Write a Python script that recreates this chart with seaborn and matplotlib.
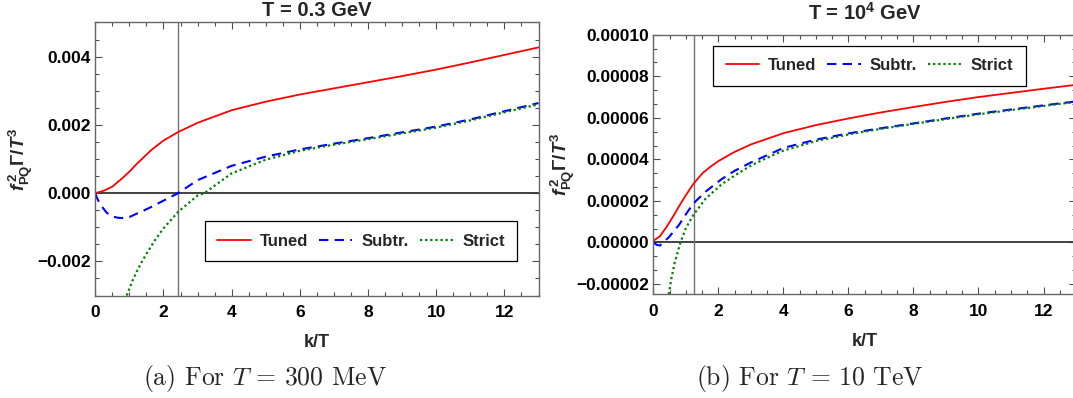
import numpy as np
import pandas as pd
import matplotlib
matplotlib.use("Agg")
import matplotlib.pyplot as plt
import seaborn as sns
from matplotlib.ticker import MultipleLocator, FuncFormatter

# ---------------- data ----------------
# Panel (a): T = 0.3 GeV, values in units of 1e-3
k_tuned_a = [0, 0.25, 0.5, 0.83, 1.0, 1.22, 1.45, 1.65, 2.0, 2.43, 3.0, 4.0, 5.0, 6.0, 7.0, 8.0, 9.0, 10.0, 11.0, 12.0, 13.0]
v_tuned_a = [0, 0.07, 0.19, 0.47, 0.63, 0.86, 1.08, 1.27, 1.54, 1.79, 2.06, 2.43, 2.68, 2.89, 3.07, 3.25, 3.43, 3.62, 3.83, 4.05, 4.27]

k_subtr_a = [0, 0.05, 0.15, 0.34, 0.5, 0.65, 0.78, 1.0, 1.22, 1.4, 1.61, 2.0, 2.43, 3.0, 4.0, 5.0, 6.0, 7.0, 8.0, 9.0, 10.0, 11.0, 12.0, 13.0]
v_subtr_a = [0, -0.14, -0.34, -0.58, -0.68, -0.72, -0.73, -0.70, -0.60, -0.52, -0.42, -0.22, 0.0, 0.38, 0.80, 1.07, 1.28, 1.45, 1.61, 1.78, 1.95, 2.16, 2.40, 2.64]

k_strict_a = [0.92, 1.0, 1.1, 1.2, 1.35, 1.5, 1.75, 2.0, 2.43, 3.0, 3.2, 4.0, 5.0, 6.0, 7.0, 8.0, 9.0, 10.0, 11.0, 12.0, 13.0]
v_strict_a = [-3.0, -2.8, -2.55, -2.33, -2.04, -1.78, -1.38, -1.03, -0.55, -0.07, 0.0, 0.58, 0.98, 1.24, 1.42, 1.58, 1.75, 1.92, 2.13, 2.37, 2.60]

vline_a = 2.43

# Panel (b): T = 1e4 GeV, values in units of 1e-5
k_tuned_b = [0, 0.2, 0.37, 0.57, 0.78, 0.98, 1.22, 1.5, 1.75, 2.0, 2.5, 3.0, 4.0, 5.0, 6.0, 7.0, 8.0, 9.0, 10.0, 11.0, 12.0, 13.0]
v_tuned_b = [0.08, 0.3, 0.67, 1.16, 1.72, 2.23, 2.8, 3.32, 3.64, 3.92, 4.36, 4.72, 5.26, 5.65, 5.97, 6.26, 6.52, 6.77, 7.0, 7.2, 7.4, 7.59]

k_subtr_b = [0, 0.1, 0.2, 0.3, 0.47, 0.78, 1.0, 1.22, 1.6, 2.1, 2.5, 3.0, 4.0, 5.0, 6.0, 7.0, 8.0, 9.0, 10.0, 11.0, 12.0, 13.0]
v_subtr_b = [0, -0.12, -0.15, 0.0, 0.24, 0.83, 1.36, 1.86, 2.44, 3.05, 3.45, 3.85, 4.55, 4.95, 5.25, 5.5, 5.73, 5.97, 6.2, 6.4, 6.6, 6.79]

k_strict_b = [0.47, 0.55, 0.65, 0.75, 0.83, 1.0, 1.22, 1.6, 2.1, 2.6, 3.0, 3.5, 4.0, 5.0, 6.0, 7.0, 8.0, 9.0, 10.0, 11.0, 12.0, 13.0]
v_strict_b = [-2.5, -1.75, -1.0, -0.45, 0.0, 0.7, 1.3, 2.1, 2.8, 3.32, 3.7, 4.08, 4.42, 4.88, 5.2, 5.47, 5.71, 5.94, 6.17, 6.37, 6.57, 6.77]

vline_b = 1.25

series_names = ["Tuned", "Subtr.", "Strict"]
titles = ["T = 0.3 GeV", r"T = 10$^{4}$ GeV"]
captions = [r"(a) For $T\,=\,300$ MeV", r"(b) For $T\,=\,10$ TeV"]

# ---------------- style ----------------
sns.set_theme(style="ticks")
plt.rcParams.update({
    "font.family": ["Liberation Sans", "DejaVu Sans"],
    "font.weight": "bold",
    "mathtext.fontset": "custom",
    "mathtext.rm": "Liberation Sans:bold",
    "mathtext.it": "Liberation Sans:bold:italic",
    "mathtext.bf": "Liberation Sans:bold",
    "axes.edgecolor": "0.4",
    "axes.linewidth": 1.0,
    "xtick.color": "0.3",
    "ytick.color": "0.3",
    "xtick.labelcolor": "black",
    "ytick.labelcolor": "black",
})

fig = plt.figure(figsize=(10.73, 3.98), dpi=100)
ax_a = fig.add_axes([0.0888, 0.2575, 0.4131, 0.686])
ax_b = fig.add_axes([0.609, 0.2606, 0.3938, 0.652])

red = (1.0, 0.0, 0.0)
blue = (0.0, 0.0, 1.0)
green = (0.0, 0.5, 0.0)


def draw(ax, kt, vt, ks, vs, kx, vx, scale):
    df_t = pd.DataFrame({"k": kt, "v": np.array(vt) * scale})
    df_s = pd.DataFrame({"k": ks, "v": np.array(vs) * scale})
    df_x = pd.DataFrame({"k": kx, "v": np.array(vx) * scale})
    sns.lineplot(data=df_t, x="k", y="v", ax=ax, color=red, lw=1.3,
                 label=series_names[0], estimator=None, sort=False)
    sns.lineplot(data=df_s, x="k", y="v", ax=ax, color=blue, lw=1.5,
                 label=series_names[1], estimator=None, sort=False)
    sns.lineplot(data=df_x, x="k", y="v", ax=ax, color=green, lw=1.6,
                 label=series_names[2], estimator=None, sort=False)
    lines = ax.get_lines()
    lines[1].set_dashes((4.5, 3))
    lines[2].set_dashes((1, 1.3))


draw(ax_a, k_tuned_a, v_tuned_a, k_subtr_a, v_subtr_a, k_strict_a, v_strict_a, 1e-3)
draw(ax_b, k_tuned_b, v_tuned_b, k_subtr_b, v_subtr_b, k_strict_b, v_strict_b, 1e-5)


def make_fmt(nd):
    def f(v, pos):
        s = f"{v:.{nd}f}"
        if s.startswith("-"):
            if float(s) == 0:
                s = s[1:]
            else:
                s = "\u2212" + s[1:]
        return s
    return FuncFormatter(f)


for ax, vl in ((ax_a, vline_a), (ax_b, vline_b)):
    ax.axhline(0, color="0.2", lw=1.3, zorder=1)
    ax.axvline(vl, color="0.45", lw=1.0, zorder=1)
    ax.set_xlim(0, 13)
    ax.xaxis.set_major_locator(MultipleLocator(2))
    ax.xaxis.set_minor_locator(MultipleLocator(0.5))
    ax.tick_params(which="both", direction="in", top=True, right=True,
                   labelsize=12.5, width=0.8)
    ax.tick_params(which="major", length=5)
    ax.tick_params(which="minor", length=3)
    ax.tick_params(axis="y", pad=3)
    ax.tick_params(axis="x", pad=7)
    ax.set_xlabel("k/T", fontsize=13, fontweight="bold", labelpad=10)

ax_a.set_ylim(-0.003, 0.005)
ax_a.yaxis.set_major_locator(MultipleLocator(0.002))
ax_a.yaxis.set_minor_locator(MultipleLocator(0.0005))
ax_a.yaxis.set_major_formatter(make_fmt(3))

ax_b.set_ylim(-0.000025, 0.0001)
ax_b.yaxis.set_major_locator(MultipleLocator(0.00002))
ax_b.yaxis.set_minor_locator(MultipleLocator(0.00002 / 3))
ax_b.yaxis.set_major_formatter(make_fmt(5))

for ax in (ax_a, ax_b):
    ax.xaxis.set_major_formatter(FuncFormatter(lambda v, p: f"{v:.0f}"))
    for lab in ax.get_xticklabels() + ax.get_yticklabels():
        lab.set_fontweight("bold")

ylab = r"$f^{\,2}_{\mathrm{PQ}}\Gamma/T^{3}$"
ax_a.set_ylabel(ylab, fontsize=13.5)
ax_b.set_ylabel(ylab, fontsize=13.5)
ax_a.yaxis.label.set_va("center")
ax_b.yaxis.label.set_va("center")
ax_a.yaxis.set_label_coords(-0.1676, 0.5)
ax_b.yaxis.set_label_coords(-0.214, 0.5)

ax_a.set_title(titles[0], fontsize=14.5, fontweight="bold", pad=5)
ax_b.set_title(titles[1], fontsize=14.5, fontweight="bold", pad=11)

leg_kw = dict(ncol=3, fontsize=12, frameon=True, fancybox=False, framealpha=1,
              edgecolor="black", handlelength=2.0, handletextpad=0.55,
              columnspacing=0.65, borderpad=0.75, borderaxespad=0)
leg_a = ax_a.legend(loc="lower left", bbox_to_anchor=(0.247, 0.126), **leg_kw)
leg_b = ax_b.legend(loc="upper left", bbox_to_anchor=(0.1415, 0.958), **leg_kw)
for leg in (leg_a, leg_b):
    leg.get_frame().set_linewidth(0.9)
    for t in leg.get_texts():
        t.set_fontweight("bold")

fig.text(265 / 1073, 1 - 378 / 398, captions[0], fontsize=18.5, family="cmr10",
         math_fontfamily="cm", color="0.15", ha="center", va="center", fontweight="normal")
fig.text(810 / 1073, 1 - 378 / 398, captions[1], fontsize=18.5, family="cmr10",
         math_fontfamily="cm", color="0.15", ha="center", va="center", fontweight="normal")

fig.savefig("out.png", dpi=100)
